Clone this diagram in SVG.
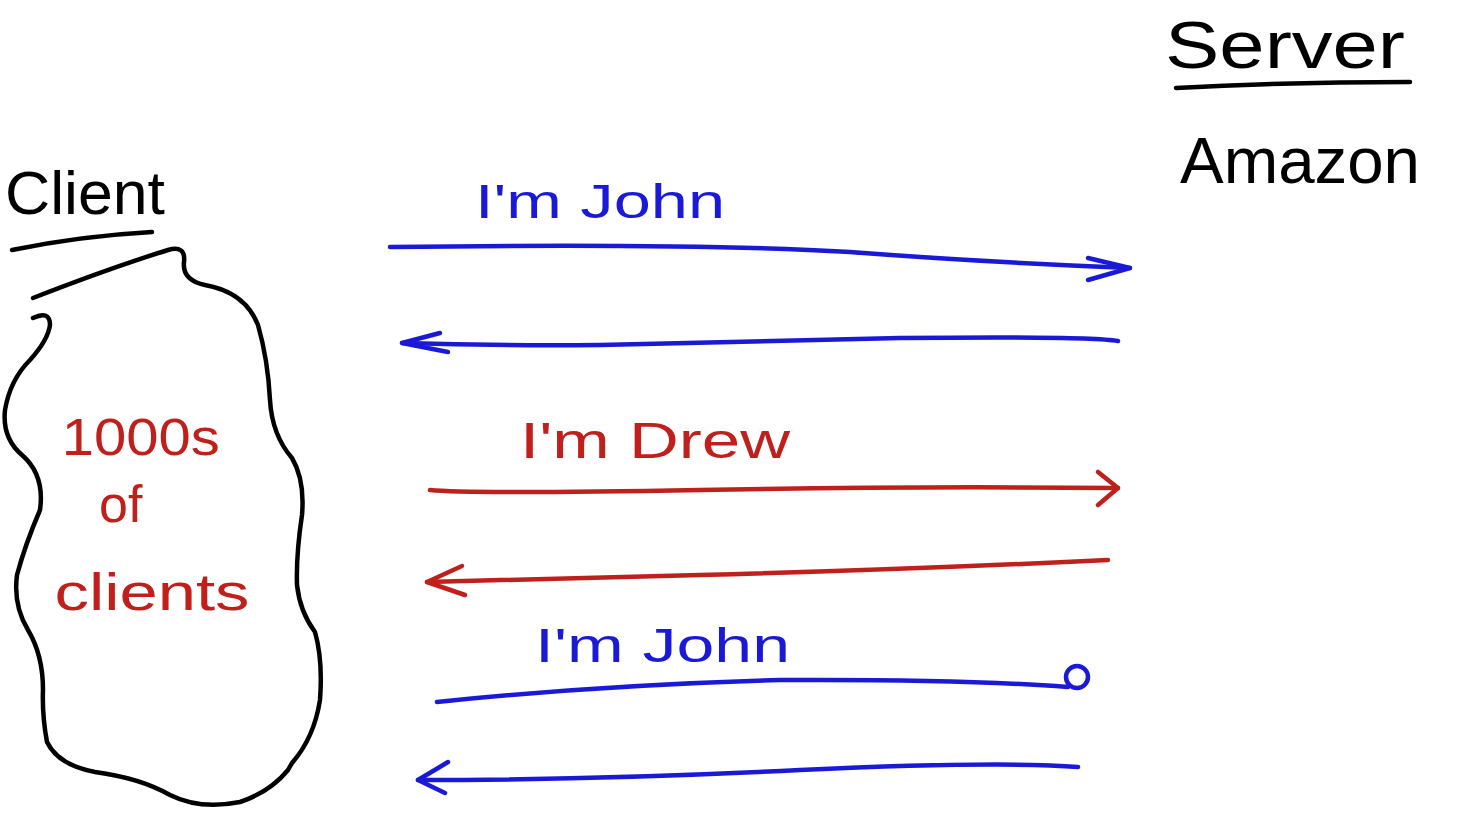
<svg xmlns="http://www.w3.org/2000/svg" width="1462" height="818" viewBox="0 0 1462 818">
<style>
.ink{fill:none;stroke-linecap:round;stroke-linejoin:round}
.blk{stroke:#000;stroke-width:4.5}
.blue{stroke:#1a1ad6;stroke-width:4.5}
.red{stroke:#c0201c;stroke-width:4.5}
.t{font-family:"Liberation Sans",Arial,sans-serif}
.tb{fill:#000}
.tblue{fill:#1a1ad6}
.tred{fill:#c0201c}
</style>
<rect width="1462" height="818" fill="#fff"/>
<g id="client">
<text class="t tb" x="5" y="214" font-size="62" textLength="160" lengthAdjust="spacingAndGlyphs">Client</text>
<path class="ink blk" d="M12,250 Q80,236 152,232"/>
</g>
<g id="clients-cloud">
<path class="ink blk" d="M33,298 Q110,268 168,250 Q186,245 184,262 Q182,280 205,285 Q245,292 258,325 Q268,360 270,400 Q272,435 292,458 Q305,480 302,515 Q296,555 297,585 Q300,612 315,632 Q323,660 320,700 Q314,738 292,763 L288,770 Q270,792 240,802 Q200,810 170,795 Q140,778 95,772 Q58,765 47,742 Q42,715 43,690 Q43,655 28,630 Q13,605 17,575 Q25,545 40,510 Q45,475 22,455 Q2,438 5,410 Q10,380 30,360 Q48,340 50,325 Q50,310 33,318"/>
<text class="t tred" text-anchor="middle" font-size="52">
<tspan x="148" y="455" textLength="158" lengthAdjust="spacingAndGlyphs">1000s</tspan>
<tspan x="128" y="522">of</tspan>
<tspan x="152" y="610" textLength="195" lengthAdjust="spacingAndGlyphs">clients</tspan>
</text>
</g>
<g id="server">
<text class="t tb" x="1165" y="68" font-size="66" textLength="240" lengthAdjust="spacingAndGlyphs">Server</text>
<path class="ink blk" d="M1176,88 Q1290,82 1410,82"/>
<text class="t tb" x="1180" y="183" font-size="64" textLength="240" lengthAdjust="spacingAndGlyphs">Amazon</text>
</g>
<g id="connectors">
<g id="msg1">
<text class="t tblue" x="475" y="218" font-size="48" textLength="250" lengthAdjust="spacingAndGlyphs">I'm John</text>
<path class="ink blue" d="M390,247 Q700,243 850,252 Q980,262 1130,268"/>
<path class="ink blue" d="M1088,258 L1130,268 L1088,280"/>
</g>
<g id="reply1">
<path class="ink blue" d="M1118,341 Q1090,336 900,338 Q700,343 600,345 Q500,346 402,343"/>
<path class="ink blue" d="M440,333 L402,343 L448,352"/>
</g>
<g id="msg2">
<text class="t tred" x="520" y="458" font-size="50" textLength="270" lengthAdjust="spacingAndGlyphs">I'm Drew</text>
<path class="ink red" d="M430,490 Q470,494 700,490 Q900,486 1118,488"/>
<path class="ink red" d="M1098,472 L1118,488 L1098,505"/>
</g>
<g id="reply2">
<path class="ink red" d="M1108,560 Q900,570 700,575 Q520,580 427,582" stroke-width="5.5"/>
<path class="ink red" d="M462,566 L427,582 L465,595" stroke-width="5.5"/>
</g>
<g id="msg3">
<text class="t tblue" x="535" y="662" font-size="48" textLength="255" lengthAdjust="spacingAndGlyphs">I'm John</text>
<path class="ink blue" d="M437,702 Q600,685 780,680 Q960,679 1068,687"/>
<circle class="ink blue" cx="1077" cy="677" r="11"/>
</g>
<g id="reply3">
<path class="ink blue" d="M1078,767 Q1000,761 800,770 Q600,780 418,780"/>
<path class="ink blue" d="M448,762 L418,780 L445,793"/>
</g>
</g>
</svg>
